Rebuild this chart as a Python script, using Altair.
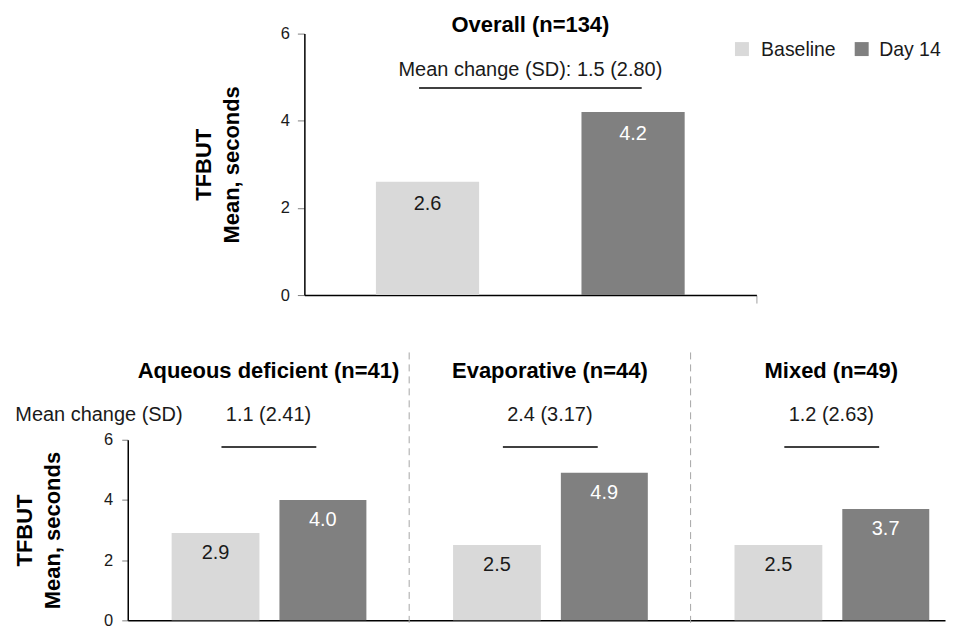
import altair as alt
import pandas as pd

FONT = "Liberation Sans"
TEXT = "#1a1a1a"

# ---- data ----
series = ["Baseline", "Day 14"]
series_colors = ["#d9d9d9", "#808080"]

overall_title = "Overall (n=134)"
overall_values = [2.6, 4.2]
overall_change = "Mean change (SD): 1.5 (2.80)"

groups = ["Aqueous deficient (n=41)", "Evaporative (n=44)", "Mixed (n=49)"]
baseline_values = [2.9, 2.5, 2.5]
day14_values = [4.0, 4.9, 3.7]
group_changes = ["1.1 (2.41)", "2.4 (3.17)", "1.2 (2.63)"]
change_label = "Mean change (SD)"

y_title = ["TFBUT", "Mean, seconds"]
y_ticks = [0, 2, 4, 6]

# ---- tables (slot index = order in the lists above) ----
top_df = pd.DataFrame({"series": series, "slot": range(len(series)), "value": overall_values})
bot_df = pd.DataFrame({
    "group": [g for g in groups for _ in series],
    "gi": [i for i in range(len(groups)) for _ in series],
    "series": series * len(groups),
    "value": [v for pair in zip(baseline_values, day14_values) for v in pair],
})
chg_df = pd.DataFrame({"group": groups, "gi": range(len(groups)), "change": group_changes})

color_scale = alt.Scale(domain=series, range=series_colors)

# ---- top panel (x in slot units) ----
TOP_W, TOP_H = 453, 262
TOP_D = 2.199
xt_scale = alt.Scale(domain=[0, TOP_D], nice=False, zero=False)
xt_axis = alt.Axis(values=[TOP_D], labels=False, ticks=True, tickSize=8, tickColor="#a0a0a0",
                   title=None, grid=False, domainColor="black", domainWidth=1.5)
yt = alt.Y("value:Q", scale=alt.Scale(domain=[0, 6], nice=False),
           axis=alt.Axis(values=y_ticks, grid=False, tickSize=7, tickColor="#808080",
                         domainColor="black", domainWidth=1.5, labelFontSize=16.5, labelPadding=8,
                         labelColor=TEXT, title=y_title, titleFontSize=22, titleFontWeight="bold",
                         titleColor="black", titlePadding=37, titleLineHeight=28))

top_base = alt.Chart(top_df).transform_calculate(
    x0="datum.slot + 0.348", x1="datum.slot + 0.850", xc="datum.slot + 0.599", zero="0")
top_bars = top_base.mark_bar().encode(
    x=alt.X("x0:Q", scale=xt_scale, axis=xt_axis), x2="x1:Q", y=yt, y2="zero:Q",
    color=alt.Color("series:N", scale=color_scale, legend=None),
)
top_lab_dark = top_base.transform_filter(alt.datum.series == series[0]).mark_text(
    baseline="middle", dy=22.5, fontSize=20, color=TEXT).encode(
    x="xc:Q", y="value:Q", text=alt.Text("value:Q", format=".1f"))
top_lab_light = top_base.transform_filter(alt.datum.series == series[1]).mark_text(
    baseline="middle", dy=22.5, fontSize=20, color="white").encode(
    x="xc:Q", y="value:Q", text=alt.Text("value:Q", format=".1f"))
top_line = alt.Chart(pd.DataFrame({"a": [0.558], "b": [1.641], "h": [4.75]})).mark_rule(
    color="black", strokeWidth=1.5).encode(x="a:Q", x2="b:Q", y="h:Q")
top_change = alt.Chart(pd.DataFrame({"t": [overall_change], "h": [5.17]})).mark_text(
    fontSize=20, baseline="middle", color=TEXT).encode(
    x=alt.value(TOP_W / 2), y="h:Q", text="t:N")
top_title = alt.Chart(pd.DataFrame({"t": [overall_title]})).mark_text(
    fontSize=22, fontWeight="bold", baseline="alphabetic", color="black").encode(
    x=alt.value(TOP_W / 2), y=alt.value(-1.75), text="t:N")

legend_layers = []
for name, col, sx, tx in zip(series, series_colors, [438.5, 558.5], [457.7, 576.0]):
    one = pd.DataFrame({"t": [name]})
    legend_layers.append(alt.Chart(one).mark_square(size=196, color=col, opacity=1).encode(
        x=alt.value(sx), y=alt.value(15.5)))
    legend_layers.append(alt.Chart(one).mark_text(
        fontSize=19.5, align="left", baseline="middle", color=TEXT).encode(
        x=alt.value(tx), y=alt.value(16.5), text="t:N"))

top = alt.layer(top_bars, top_lab_dark, top_lab_light, top_line, top_change, top_title,
                *legend_layers).properties(width=TOP_W, height=TOP_H)

spacer = alt.Chart(pd.DataFrame({"a": [0]})).mark_point(opacity=0).encode(
    x=alt.value(0), y=alt.value(0)).properties(width=64, height=10)
top_row = alt.hconcat(spacer, top, spacing=0)

# ---- bottom panel (x in group units) ----
BOT_W, BOT_H = 819, 181
BOT_D = 2.904
xb_scale = alt.Scale(domain=[0, BOT_D], nice=False, zero=False)
xb_axis = alt.Axis(labels=False, ticks=False, title=None, grid=False, domainColor="black", domainWidth=1.5)
yb = alt.Y("value:Q", scale=alt.Scale(domain=[0, 6], nice=False),
           axis=alt.Axis(values=y_ticks, grid=False, tickSize=6, tickColor="#808080",
                         domainColor="black", domainWidth=1.5, labelFontSize=16.5, labelPadding=9,
                         labelColor=TEXT, title=y_title, titleFontSize=22, titleFontWeight="bold",
                         titleColor="black", titlePadding=39, titleLineHeight=28))

bot_base = alt.Chart(bot_df).transform_calculate(
    x0="datum.gi + (datum.series == 'Baseline' ? 0.156 : 0.539)",
    x1="datum.gi + (datum.series == 'Baseline' ? 0.468 : 0.848)",
    xc="datum.gi + (datum.series == 'Baseline' ? 0.312 : 0.693)",
    zero="0",
)
bot_bars = bot_base.mark_bar().encode(
    x=alt.X("x0:Q", scale=xb_scale, axis=xb_axis), x2="x1:Q", y=yb, y2="zero:Q",
    color=alt.Color("series:N", scale=color_scale, legend=None),
)
bot_lab_dark = bot_base.transform_filter(alt.datum.series == series[0]).mark_text(
    baseline="middle", dy=20, fontSize=20, color=TEXT).encode(
    x="xc:Q", y="value:Q", text=alt.Text("value:Q", format=".1f"))
bot_lab_light = bot_base.transform_filter(alt.datum.series == series[1]).mark_text(
    baseline="middle", dy=20, fontSize=20, color="white").encode(
    x="xc:Q", y="value:Q", text=alt.Text("value:Q", format=".1f"))

chg_base = alt.Chart(chg_df).transform_calculate(
    xc="datum.gi + 0.5", l0="datum.gi + 0.333", l1="datum.gi + 0.67", sep="datum.gi + 1",
    hline="5.76", htext="6.83", htitle="8.29", stop="8.9", sbot="-0.1",
)
bot_seps = chg_base.transform_filter(f"datum.gi < {len(groups) - 1}").mark_rule(
    color="#a6a6a6", strokeWidth=1, strokeDash=[7, 5]).encode(x="sep:Q", y="stop:Q", y2="sbot:Q")
bot_lines = chg_base.mark_rule(color="black", strokeWidth=1.5).encode(x="l0:Q", x2="l1:Q", y="hline:Q")
bot_changes = chg_base.mark_text(fontSize=20, baseline="middle", color=TEXT).encode(
    x="xc:Q", y="htext:Q", text="change:N")
bot_titles = chg_base.mark_text(fontSize=22, fontWeight="bold", baseline="middle", color="black").encode(
    x="xc:Q", y="htitle:Q", text="group:N")
bot_change_label = alt.Chart(pd.DataFrame({"t": [change_label], "h": [6.83]})).mark_text(
    fontSize=20, baseline="middle", align="left", color=TEXT).encode(
    x=alt.value(-112.7), y="h:Q", text="t:N")

bottom = alt.layer(bot_seps, bot_bars, bot_lab_dark, bot_lab_light, bot_lines, bot_changes,
                   bot_titles, bot_change_label).properties(width=BOT_W, height=BOT_H)

chart = alt.vconcat(top_row, bottom, spacing=48).properties(
    padding={"left": 5, "top": 5, "right": 5, "bottom": 0}
).configure(font=FONT).configure_view(stroke=None)

chart.save("out.html", embed_options={"renderer": "svg", "actions": False})
